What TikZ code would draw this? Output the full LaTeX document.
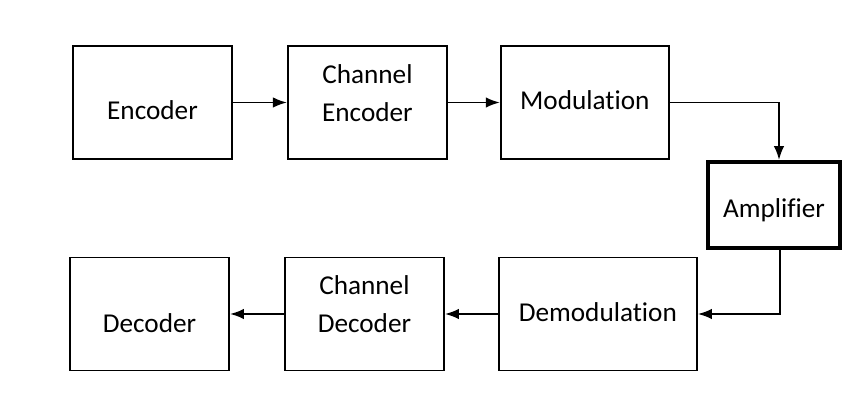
\documentclass[tikz,border=0pt]{standalone}
\usepackage{fontspec}
\setmainfont{Carlito}[Ligatures=NoCommon]
\usepackage{tikz}
\usetikzlibrary{arrows.meta, positioning}

\begin{document}
\begin{tikzpicture}[
    node distance=1.06cm,
    block/.style={rectangle, minimum width=3.18cm, minimum height=2.26cm, draw=black, line width=1.1pt},
    ampblock/.style={block, minimum width=2.64cm, minimum height=1.72cm, line width=2.2pt},
    txt/.style={align=center, font=\fontsize{15.5}{21.5}\selectfont},
    arrow/.style={line width=1.1pt, -{Latex[length=2.8mm, width=2.1mm]}}
]
    \useasboundingbox (0,0) rectangle (17,-8.24);

    \node (enc) [block, label={[txt, yshift=-0.15cm]center:Encoder}] at (3.05,-2.05) {};
    \node (chenc) [block, right=1.08cm of enc, label={[txt, yshift=0.18cm]center:Channel\\Encoder}] {};
    \node (mod) [block, right=1.04cm of chenc, minimum width=3.36cm, label={[txt, yshift=0.05cm]center:Modulation}] {};
    \node (amp) [ampblock, label={[txt, yshift=-0.1cm]center:Amplifier}] at (15.48,-4.10) {};
    \node (dec) [block, label={[txt, yshift=-0.18cm]center:Decoder}] at (2.99,-6.28) {};
    \node (chdec) [block, right=1.08cm of dec, label={[txt, yshift=0.2cm]center:Channel\\Decoder}] {};
    \node (demod) [block, right=1.06cm of chdec, minimum width=3.96cm, label={[txt, yshift=0.04cm]center:Demodulation}] {};

    \draw [arrow] (enc) -- (chenc);
    \draw [arrow] (chenc) -- (mod);
    \draw [arrow] (mod.east) -| ([xshift=0.1cm]amp.north);
    \draw [arrow] ([xshift=0.12cm]amp.south) |- (demod.east);
    \draw [arrow] (demod) -- (chdec);
    \draw [arrow] (chdec) -- (dec);

\end{tikzpicture}
\end{document}
